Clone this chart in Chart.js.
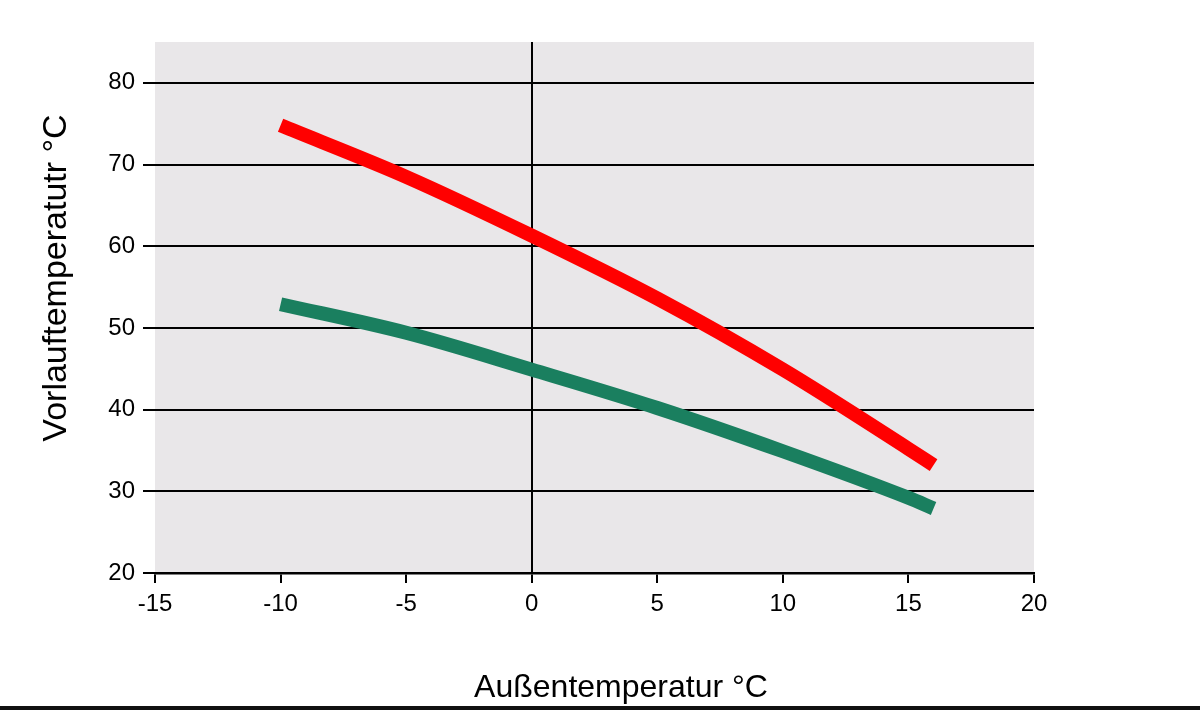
<!DOCTYPE html>
<html>
<head>
<meta charset="utf-8">
<script src="https://cdn.jsdelivr.net/npm/chart.js@4"></script>
<style>
  body { margin: 0; background: #fff; }
  #wrap { position: relative; width: 1200px; height: 710px; }
</style>
</head>
<body>
<div id="wrap"><canvas id="chart"></canvas></div>
<script>
const outdoorTemps = [-10, -5, 0, 5, 10, 15, 16];
const flowHigh = [74.8, 68.5, 61.3, 53.6, 44.9, 35.2, 33.2];
const flowLow = [52.9, 49.4, 44.9, 40.2, 34.9, 29.2, 27.9];

const xTicks = [-15, -10, -5, 0, 5, 10, 15, 20];
const yTicks = [20, 30, 40, 50, 60, 70, 80];

const xTitle = "Außentemperatur °C";
const yTitle = "Vorlauftemperatutr °C";

const toPoints = (xs, ys) => xs.map((x, i) => ({ x: x, y: ys[i] }));

const decor = {
  id: "decor",
  beforeDraw: chart => {
    const { ctx, chartArea } = chart;
    ctx.save();
    ctx.fillStyle = "#e9e7e9";
    ctx.fillRect(chartArea.left, chartArea.top, chartArea.right - chartArea.left, chartArea.bottom - chartArea.top);
    ctx.restore();
  },
  afterDraw: chart => {
    const ctx = chart.ctx;
    ctx.save();
    ctx.fillStyle = "#000";
    ctx.font = "32px 'Liberation Sans', Arial, sans-serif";
    ctx.textAlign = "center";
    ctx.textBaseline = "alphabetic";
    ctx.fillText(xTitle, 621, 697);

    ctx.translate(66, 278);
    ctx.rotate(-Math.PI / 2);
    ctx.font = "34px 'Liberation Sans', Arial, sans-serif";
    ctx.fillText(yTitle, 0, 0);
    ctx.restore();

    ctx.save();
    ctx.fillStyle = "#111";
    ctx.fillRect(0, 706, 1200, 4);
    ctx.restore();
  }
};

new Chart(document.getElementById("chart"), {
  type: "line",
  data: {
    datasets: [
      {
        data: toPoints(outdoorTemps, flowHigh),
        borderColor: "#ff0000",
        borderWidth: 14,
        borderCapStyle: "butt",
        cubicInterpolationMode: "monotone",
        pointRadius: 0
      },
      {
        data: toPoints(outdoorTemps, flowLow),
        borderColor: "#1a7f5f",
        borderWidth: 14,
        borderCapStyle: "butt",
        cubicInterpolationMode: "monotone",
        pointRadius: 0
      }
    ]
  },
  options: {
    responsive: true,
    maintainAspectRatio: false,
    animation: false,
    layout: { padding: { left: 0, top: 42, right: 166, bottom: 0 } },
    plugins: {
      legend: { display: false },
      tooltip: { enabled: false }
    },
    scales: {
      x: {
        type: "linear",
        min: -15,
        max: 20,
        afterBuildTicks: scale => {
          scale.ticks = xTicks.map(v => ({ value: v }));
        },
        afterFit: scale => {
          scale.height = 137;
        },
        border: { display: true, color: "#000", width: 2.5 },
        grid: {
          color: c => (c.tick && c.tick.value === 0 ? "#000" : "rgba(0,0,0,0)"),
          tickColor: "#000",
          lineWidth: 2,
          tickLength: 10
        },
        ticks: {
          color: "#000",
          padding: 7,
          maxRotation: 0,
          font: { family: "'Liberation Sans', Arial, sans-serif", size: 24 }
        }
      },
      y: {
        type: "linear",
        min: 20,
        max: 85,
        afterBuildTicks: scale => {
          scale.ticks = yTicks.map(v => ({ value: v }));
        },
        afterFit: scale => {
          scale.width = 155;
        },
        border: { display: false },
        grid: {
          color: "#000",
          tickColor: "#000",
          lineWidth: 2,
          tickLength: 12
        },
        ticks: {
          color: "#000",
          padding: 8,
          font: { family: "'Liberation Sans', Arial, sans-serif", size: 24 }
        }
      }
    }
  },
  plugins: [decor]
});
</script>
</body>
</html>
